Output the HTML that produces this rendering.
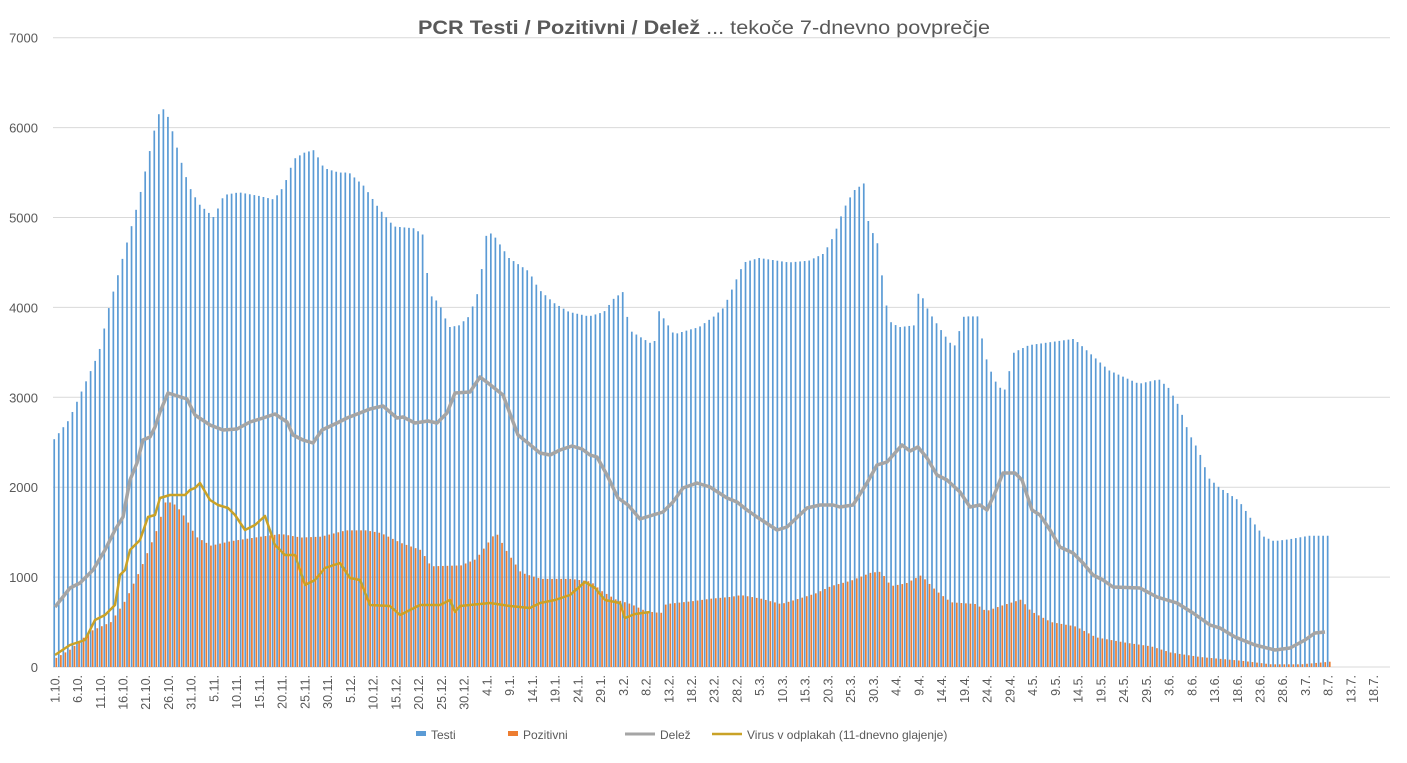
<!DOCTYPE html>
<html><head><meta charset="utf-8"><style>
body{margin:0;background:#fff;width:1407px;height:758px;overflow:hidden}
svg{font-family:"Liberation Sans",sans-serif}
</style></head><body>
<svg id="s" width="1407" height="758" xmlns="http://www.w3.org/2000/svg">
<text x="704" y="34" text-anchor="middle" font-size="19" fill="#595959" textLength="572" lengthAdjust="spacingAndGlyphs"><tspan font-weight="bold">PCR Testi / Pozitivni / Delež</tspan> ... tekoče 7-dnevno povprečje</text>
<g id="g"></g>
<g font-size="12" fill="#595959">
<rect x="416" y="731" width="10" height="5" fill="#5b9bd5"/><text x="431" y="739">Testi</text>
<rect x="508" y="731" width="10" height="5" fill="#ed7d31"/><text x="523" y="739">Pozitivni</text>
<line x1="625" y1="734" x2="655" y2="734" stroke="#a5a5a5" stroke-width="3"/><text x="660" y="739">Delež</text>
<line x1="712" y1="734" x2="742" y2="734" stroke="#c9a227" stroke-width="2.5"/><text x="747" y="739">Virus v odplakah (11-dnevno glajenje)</text>
</g>
</svg>
<script>
const g=document.getElementById('g');let h='';
const Y0=667,K=0.0899,L=53,W=4.548,N=294;
for(let v=0;v<=7000;v+=1000){const y=Y0-v*K;h+=`<line x1="53" x2="1390" y1="${y}" y2="${y}" stroke="#d9d9d9"/>`;h+=`<text x="38" y="${y+5}" text-anchor="end" font-size="13" fill="#595959">${v}</text>`;}
function interp(p,x){for(let i=0;i<p.length-1;i++){if(x>=p[i][0]&&x<=p[i+1][0]){const t=(x-p[i][0])/(p[i+1][0]-p[i][0]);return p[i][1]+t*(p[i+1][1]-p[i][1]);}}return null;}
function pr(a){const r=[];for(let i=0;i<a.length;i+=2)r.push([a[i],a[i+1]]);return r;}
const T=pr([55,2530,70,2750,80,3000,90,3250,100,3500,110,4000,120,4400,130,4800,140,5200,150,5700,158,6100,163,6230,170,6100,180,5700,190,5350,200,5150,215,5000,225,5250,240,5280,260,5240,275,5200,285,5350,295,5650,305,5720,315,5750,325,5550,340,5500,350,5500,365,5350,380,5100,395,4900,415,4880,425,4800,430,4150,440,4050,450,3780,460,3800,470,3900,480,4200,488,4850,495,4800,510,4550,530,4400,540,4200,555,4050,570,3950,590,3900,605,3950,615,4100,625,4180,630,3750,640,3680,655,3580,660,3960,675,3700,690,3750,700,3780,715,3900,725,4000,735,4250,745,4500,760,4550,790,4500,810,4520,825,4600,835,4800,845,5100,855,5300,865,5380,870,4900,878,4750,885,4200,890,3850,900,3780,915,3800,920,4200,930,3950,945,3700,955,3550,965,3900,980,3900,985,3500,995,3200,1005,3050,1015,3500,1030,3580,1075,3650,1095,3450,1110,3300,1120,3250,1140,3150,1160,3200,1170,3100,1180,2900,1190,2600,1200,2400,1210,2100,1220,2000,1240,1850,1255,1600,1265,1450,1275,1400,1290,1420,1310,1460,1330,1460]);
const P=pr([55,100,70,200,90,400,110,500,125,750,140,1100,155,1500,165,1850,175,1800,185,1650,195,1450,210,1350,230,1400,260,1450,280,1480,300,1440,320,1450,345,1520,365,1520,380,1490,400,1380,420,1300,430,1120,460,1130,475,1200,485,1350,495,1500,505,1300,520,1050,540,980,570,980,590,950,600,850,615,750,630,700,645,620,660,600,665,700,690,730,710,760,730,780,740,800,760,760,780,700,795,750,815,820,830,900,850,960,870,1050,880,1060,890,900,905,930,920,1020,935,850,950,720,975,700,985,620,1000,680,1020,750,1030,620,1050,500,1075,450,1095,330,1125,270,1150,230,1170,160,1200,110,1240,70,1270,30,1300,30,1330,60]);
for(let i=0;i<N;i++){const c=L+(i+0.5)*W;const t=interp(T,c),p=interp(P,c);
if(t!=null)h+=`<rect x="${c-1.9}" y="${Y0-t*K}" width="1.7" height="${t*K}" fill="#5b9bd5"/>`;
if(p!=null)h+=`<rect x="${c+0.2}" y="${Y0-p*K}" width="1.7" height="${p*K}" fill="#ed7d31"/>`;}
const D=[55,607,70,588,80,583,93,570,105,550,115,530,123,517,130,480,137,463,143,440,150,437,155,427,160,412,168,393,187,399,195,415,210,425,223,430,237,429,250,422,263,418,275,414,287,422,293,435,303,440,313,443,322,430,337,423,347,418,370,409,383,406,397,418,403,417,415,423,428,421,437,423,447,413,455,393,470,392,480,377,488,383,503,395,518,435,528,443,540,453,550,455,560,450,572,446,582,449,590,455,597,457,607,475,618,498,628,505,640,519,653,515,663,512,673,502,683,488,697,483,710,487,727,498,737,502,747,510,757,517,777,530,787,527,807,508,820,505,833,505,840,507,853,505,867,483,877,465,887,462,902,445,910,451,918,447,927,458,937,475,947,480,960,492,970,507,980,505,987,510,995,493,1003,473,1015,473,1022,480,1032,510,1040,515,1050,530,1060,547,1073,553,1083,563,1093,575,1103,580,1113,587,1140,588,1157,597,1177,603,1193,613,1210,625,1220,628,1235,637,1255,645,1275,650,1290,648,1305,640,1315,633,1325,632];
const V=[55,655,70,645,85,640,95,620,105,615,115,605,120,575,125,570,130,550,140,540,148,517,155,515,160,498,170,495,185,495,190,490,195,488,200,483,210,500,218,505,228,508,235,515,245,530,255,525,265,516,275,545,285,555,295,555,305,585,315,580,325,568,340,563,350,578,360,580,370,605,390,606,400,615,410,610,420,605,440,605,450,600,455,612,460,606,470,605,490,603,510,606,530,608,540,603,555,600,570,595,585,582,595,588,605,600,620,603,625,618,635,614,650,612];
function pl(a){let s='';for(let i=0;i<a.length;i+=2)s+=a[i]+','+a[i+1]+' ';return s;}
h+=`<polyline points="${pl(D)}" fill="none" stroke="#a5a5a5" stroke-width="3.5" stroke-linejoin="round"/>`;
h+=`<polyline points="${pl(V)}" fill="none" stroke="#c9a227" stroke-width="2.5" stroke-linejoin="round"/>`;
let m=10,d=1;const dm={10:31,11:30,12:31,1:31,2:28,3:31,4:30,5:31,6:30,7:31};
for(let i=0;i<N;i++){if(i%5==0){const c=L+(i+0.5)*W+4;h+=`<text transform="translate(${c},675) rotate(-90)" text-anchor="end" font-size="12.5" fill="#595959">${d}.${m}.</text>`;}
d++;if(d>dm[m]){d=1;m=m==12?1:m+1;}}
g.innerHTML=h;
</script>
</body></html>
